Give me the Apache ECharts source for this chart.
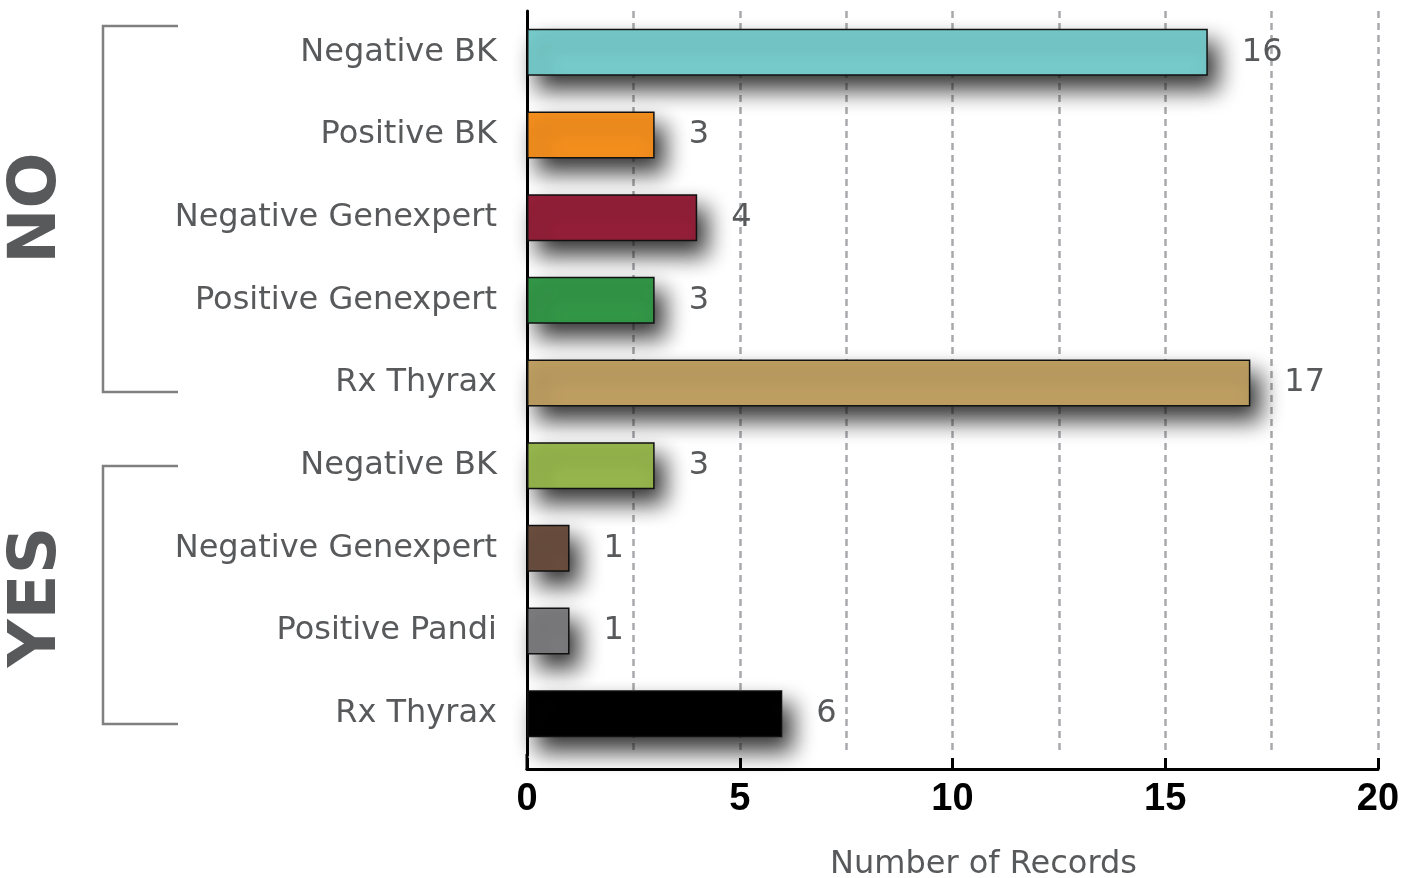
<!DOCTYPE html>
<html>
<head>
<meta charset="utf-8">
<script src="https://cdn.jsdelivr.net/npm/echarts@6/dist/echarts.min.js"></script>
<style>
  html, body { margin: 0; padding: 0; background: #fff; }
  #chart { width: 1403px; height: 878px; }
</style>
</head>
<body>
<div id="chart"></div>
<script>
// Records per result, grouped NO / YES
const groups = ['NO', 'NO', 'NO', 'NO', 'NO', 'YES', 'YES', 'YES', 'YES'];
const categories = ['Negative BK', 'Positive BK', 'Negative Genexpert', 'Positive Genexpert', 'Rx Thyrax',
  'Negative BK', 'Negative Genexpert', 'Positive Pandi', 'Rx Thyrax'];
const records = [16, 3, 4, 3, 17, 3, 1, 1, 6];
const barColors = ['#78cdcd', '#f6901e', '#951f39', '#339848', '#c0a063',
  '#98b84e', '#6b4f3f', '#7d7d80', '#000000'];
const xMin = 0, xMax = 20, xStep = 5;

const grey = '#58595b';
const chart = echarts.init(document.getElementById('chart'));

const bracket = (top, bottom) => ({
  type: 'polyline',
  shape: { points: [[178, top], [103, top], [103, bottom], [178, bottom]] },
  style: { stroke: '#808080', lineWidth: 2.5, fill: null },
});

chart.setOption({
  animation: false,
  grid: { left: 527, right: 25, top: 11, bottom: 123, outerBoundsMode: 'none', containLabel: false },
  xAxis: {
    type: 'value',
    min: xMin, max: xMax, interval: xStep,
    offset: 14,
    axisLine: { show: true, lineStyle: { color: '#000', width: 3 } },
    axisTick: { show: true, inside: true, length: 11, lineStyle: { color: '#000', width: 3 } },
    axisLabel: { margin: 12, fontSize: 38, fontWeight: 'bold', color: '#000', fontFamily: 'Liberation Sans' },
    splitLine: { show: true, lineStyle: { color: '#a7a9ac', width: 2.5, type: [7, 5] } },
    minorTick: { show: false, splitNumber: 2 },
    minorSplitLine: { show: true, lineStyle: { color: '#a7a9ac', width: 2.5, type: [7, 5] } },
    name: 'Number of Records',
    nameLocation: 'middle',
    nameGap: 80,
    nameTextStyle: { fontSize: 32, color: grey, fontFamily: 'DejaVu Sans', padding: [0, 0, 0, 62] },
  },
  yAxis: {
    type: 'category',
    inverse: true,
    data: categories.map((c, i) => groups[i] + '|' + c),
    axisLine: { show: true, lineStyle: { color: '#000', width: 3 } },
    axisTick: { show: false },
    axisLabel: {
      margin: 30, fontSize: 32, color: grey, fontFamily: 'DejaVu Sans',
      formatter: v => v.split('|')[1],
    },
  },
  series: [{
    type: 'bar',
    barWidth: 47,
    data: records.map((v, i) => ({
      value: v,
      itemStyle: { color: barColors[i] },
    })),
    itemStyle: {
      borderColor: '#111', borderWidth: 1.5,
      shadowColor: 'rgba(20,20,20,0.85)', shadowBlur: 22, shadowOffsetX: 10, shadowOffsetY: 14,
    },
    label: {
      show: true, position: 'right', distance: 34,
      fontSize: 32, color: grey, fontFamily: 'DejaVu Sans',
    },
  }],
  graphic: [
    // y axis line continues down to the offset x axis
    { type: 'line', shape: { x1: 527, y1: 754, x2: 527, y2: 770 }, style: { stroke: '#000', lineWidth: 3 } },
    bracket(26, 392),
    bracket(466, 724),
    {
      type: 'text', x: 38, y: 208, rotation: Math.PI / 2,
      style: { text: 'NO', fontSize: 66, fontWeight: 'bold', fontFamily: 'DejaVu Sans', fill: grey, align: 'center', verticalAlign: 'middle' },
    },
    {
      type: 'text', x: 38, y: 597, rotation: Math.PI / 2,
      style: { text: 'YES', fontSize: 66, fontWeight: 'bold', fontFamily: 'DejaVu Sans', fill: grey, align: 'center', verticalAlign: 'middle' },
    },
  ],
});
</script>
</body>
</html>
